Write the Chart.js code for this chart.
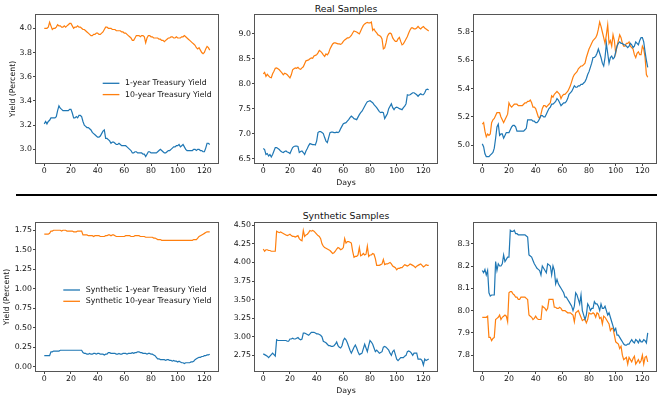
<!DOCTYPE html>
<html><head><meta charset="utf-8">
<script src="https://cdn.jsdelivr.net/npm/chart.js@4"></script>
<style>
html,body{margin:0;padding:0;background:#fff;}
#fig{position:relative;width:661px;height:398px;overflow:hidden;background:#fff;font-family:'DejaVu Sans',sans-serif;}
canvas{position:absolute;}
.title{position:absolute;font-size:9.3px;color:#111;transform:translate(-50%,-50%);white-space:nowrap;}
#sep{position:absolute;left:16px;top:194px;width:641px;height:2px;background:#000;}
</style></head><body>
<div id="fig">
 <div class="title" style="left:346px;top:7.5px">Real Samples</div>
 <div class="title" style="left:346px;top:215px">Synthetic Samples</div>
 <div id="sep"></div>
 <canvas id="c1"></canvas><canvas id="c2"></canvas><canvas id="c3"></canvas>
 <canvas id="c4"></canvas><canvas id="c5"></canvas><canvas id="c6"></canvas>
</div>
<script>
// ---------------- data ----------------
const days = Array.from({length:125}, (_, i) => i);
const xTicks = [0,20,40,60,80,100,120];
const realLabels = ['1-year Treasury Yield','10-year Treasury Yield'];
const synLabels = ['Synthetic 1-year Treasury Yield','Synthetic 10-year Treasury Yield'];

const realA_1y = [3.21,3.23,3.21,3.23,3.24,3.26,3.26,3.26,3.26,3.27,
3.32,3.36,3.34,3.33,3.32,3.32,3.32,3.32,3.32,3.33,
3.33,3.30,3.26,3.26,3.27,3.26,3.28,3.28,3.27,3.23,
3.20,3.19,3.18,3.18,3.17,3.16,3.14,3.13,3.12,3.11,
3.10,3.10,3.11,3.13,3.15,3.16,3.09,3.09,3.08,3.07,
3.05,3.06,3.06,3.05,3.04,3.04,3.05,3.04,3.03,3.03,
3.03,3.03,3.02,3.01,3.00,2.99,2.97,2.97,2.98,2.98,
2.97,2.97,2.97,2.97,2.96,2.96,2.94,2.96,2.98,2.98,
2.97,2.97,2.97,2.97,2.97,2.98,2.99,3.00,2.99,2.98,
2.97,2.97,2.98,2.99,2.99,3.00,3.01,3.02,3.02,3.03,
3.03,3.04,3.02,3.03,3.04,3.02,3.00,2.99,2.99,2.99,
2.99,2.99,3.00,3.00,2.99,3.00,3.00,2.99,2.99,2.98,
2.98,3.01,3.05,3.05,3.04];
const realA_10y = [4.00,4.00,4.00,4.01,4.05,4.02,3.99,4.00,4.00,4.01,
4.03,4.02,4.02,4.01,4.01,4.02,4.01,4.02,4.03,4.04,
4.04,4.02,4.00,4.01,4.01,4.02,4.01,4.01,4.00,3.99,
3.99,3.98,3.97,3.96,3.95,3.94,3.94,3.95,3.95,3.96,
3.96,3.95,3.95,3.96,3.97,3.99,4.01,4.01,4.00,4.00,
4.00,3.99,3.99,3.99,3.98,3.98,3.98,3.98,3.97,3.97,
3.96,3.96,3.95,3.94,3.93,3.92,3.90,3.90,3.92,3.94,
3.94,3.94,3.93,3.94,3.94,3.93,3.88,3.92,3.94,3.94,
3.93,3.93,3.92,3.92,3.92,3.92,3.91,3.91,3.90,3.90,
3.89,3.90,3.91,3.92,3.92,3.93,3.93,3.92,3.92,3.93,
3.92,3.92,3.92,3.93,3.93,3.94,3.93,3.92,3.91,3.90,
3.89,3.88,3.87,3.86,3.84,3.83,3.84,3.82,3.80,3.79,
3.80,3.83,3.85,3.84,3.82];
const realB_1y = [6.70,6.68,6.58,6.60,6.55,6.58,6.53,6.58,6.65,6.72,
6.72,6.70,6.68,6.65,6.63,6.62,6.64,6.65,6.63,6.62,
6.60,6.66,6.72,6.74,6.75,6.75,6.74,6.62,6.64,6.65,
6.62,6.58,6.65,6.70,6.76,6.80,6.79,6.78,6.78,6.77,
6.85,7.02,7.04,7.04,7.02,7.00,6.92,6.85,6.82,6.92,
7.02,7.03,7.03,7.02,7.02,7.03,7.02,7.04,7.10,7.15,
7.20,7.21,7.22,7.25,7.28,7.32,7.35,7.33,7.30,7.29,
7.28,7.33,7.38,7.42,7.45,7.50,7.55,7.60,7.64,7.65,
7.66,7.64,7.62,7.58,7.55,7.52,7.48,7.44,7.42,7.43,
7.42,7.30,7.35,7.40,7.50,7.55,7.60,7.52,7.48,7.52,
7.53,7.52,7.50,7.49,7.48,7.52,7.55,7.60,7.78,7.77,
7.78,7.80,7.82,7.82,7.80,7.78,7.75,7.78,7.80,7.78,
7.78,7.82,7.88,7.89,7.88];
const realB_10y = [8.20,8.23,8.15,8.19,8.16,8.13,8.12,8.20,8.25,8.31,
8.32,8.30,8.28,8.25,8.22,8.18,8.21,8.20,8.18,8.15,
8.12,8.18,8.28,8.30,8.32,8.31,8.33,8.30,8.29,8.32,
8.34,8.40,8.46,8.47,8.48,8.50,8.52,8.51,8.56,8.57,
8.58,8.62,8.67,8.65,8.62,8.58,8.55,8.60,8.58,8.62,
8.70,8.75,8.80,8.82,8.82,8.81,8.80,8.80,8.79,8.81,
8.85,8.88,8.90,8.92,8.92,8.94,8.97,9.02,9.06,9.05,
9.04,9.02,9.00,9.06,9.12,9.17,9.20,9.22,9.23,9.22,
9.22,9.24,9.07,9.10,9.05,9.02,8.98,8.97,8.95,8.90,
8.70,8.72,8.82,8.95,9.00,9.02,9.00,8.92,8.88,8.85,
8.85,8.90,8.93,8.85,8.78,8.80,8.85,8.90,8.95,9.02,
9.08,9.12,9.12,9.10,9.10,9.12,9.15,9.12,9.10,9.13,
9.15,9.12,9.10,9.08,9.06];
const realC_1y = [5.01,4.99,4.94,4.92,4.92,4.92,4.93,4.94,4.95,4.98,
5.05,5.13,5.15,5.07,5.08,5.08,5.05,5.07,5.09,5.09,
5.09,5.11,5.13,5.14,5.14,5.13,5.10,5.10,5.10,5.10,
5.10,5.10,5.11,5.12,5.18,5.18,5.18,5.18,5.17,5.17,
5.16,5.16,5.17,5.19,5.21,5.21,5.20,5.20,5.22,5.24,
5.26,5.27,5.29,5.29,5.30,5.31,5.33,5.32,5.30,5.28,
5.29,5.30,5.30,5.31,5.33,5.36,5.37,5.38,5.40,5.42,
5.41,5.41,5.42,5.42,5.43,5.43,5.44,5.45,5.47,5.50,
5.52,5.55,5.58,5.62,5.62,5.63,5.65,5.68,5.65,5.62,
5.58,5.56,5.62,5.72,5.65,5.58,5.62,5.63,5.61,5.62,
5.66,5.70,5.72,5.73,5.72,5.72,5.71,5.71,5.70,5.69,
5.70,5.72,5.71,5.69,5.70,5.73,5.72,5.71,5.74,5.76,
5.76,5.73,5.66,5.60,5.55];
const realC_10y = [5.15,5.16,5.10,5.06,5.08,5.07,5.08,5.16,5.18,5.19,
5.21,5.23,5.23,5.23,5.20,5.18,5.16,5.18,5.20,5.22,
5.30,5.28,5.27,5.28,5.29,5.29,5.29,5.28,5.28,5.28,
5.28,5.29,5.30,5.30,5.31,5.31,5.32,5.30,5.27,5.27,
5.26,5.23,5.20,5.19,5.22,5.26,5.28,5.28,5.27,5.28,
5.29,5.30,5.35,5.34,5.36,5.37,5.38,5.37,5.36,5.33,
5.35,5.36,5.36,5.37,5.38,5.40,5.42,5.45,5.48,5.50,
5.51,5.52,5.54,5.55,5.56,5.56,5.57,5.58,5.62,5.65,
5.68,5.70,5.72,5.74,5.75,5.76,5.78,5.82,5.87,5.84,
5.80,5.76,5.72,5.78,5.85,5.72,5.74,5.70,5.78,5.74,
5.65,5.70,5.74,5.78,5.76,5.72,5.70,5.70,5.72,5.72,
5.73,5.70,5.69,5.68,5.64,5.62,5.65,5.66,5.64,5.64,
5.70,5.68,5.62,5.50,5.48];
const synA_1y = [0.14,0.14,0.14,0.14,0.14,0.19,0.19,0.20,0.20,0.20,
0.20,0.20,0.21,0.21,0.21,0.21,0.21,0.21,0.21,0.21,
0.21,0.21,0.21,0.21,0.21,0.21,0.21,0.21,0.21,0.18,
0.17,0.17,0.16,0.16,0.17,0.16,0.16,0.17,0.17,0.16,
0.17,0.17,0.16,0.16,0.16,0.15,0.16,0.16,0.18,0.18,
0.17,0.17,0.17,0.17,0.16,0.16,0.17,0.16,0.16,0.17,
0.17,0.17,0.16,0.17,0.17,0.17,0.18,0.17,0.18,0.18,
0.19,0.19,0.18,0.18,0.17,0.17,0.17,0.16,0.17,0.17,
0.16,0.16,0.15,0.14,0.12,0.10,0.10,0.09,0.09,0.09,
0.09,0.08,0.09,0.09,0.08,0.08,0.07,0.08,0.07,0.07,
0.06,0.07,0.06,0.05,0.05,0.04,0.05,0.05,0.05,0.05,
0.06,0.06,0.07,0.09,0.10,0.11,0.12,0.12,0.13,0.13,
0.14,0.14,0.15,0.15,0.16];
const synA_10y = [1.70,1.70,1.70,1.70,1.71,1.74,1.74,1.75,1.75,1.75,
1.75,1.75,1.75,1.74,1.75,1.75,1.75,1.74,1.74,1.74,
1.74,1.74,1.73,1.73,1.73,1.74,1.74,1.74,1.74,1.69,
1.69,1.69,1.69,1.68,1.68,1.68,1.68,1.67,1.68,1.68,
1.68,1.68,1.67,1.67,1.67,1.67,1.68,1.68,1.69,1.69,
1.68,1.69,1.69,1.68,1.67,1.67,1.67,1.67,1.67,1.67,
1.67,1.68,1.68,1.68,1.68,1.67,1.67,1.67,1.68,1.68,
1.68,1.68,1.67,1.67,1.67,1.67,1.66,1.66,1.66,1.66,
1.66,1.66,1.65,1.65,1.64,1.63,1.63,1.63,1.62,1.62,
1.62,1.62,1.62,1.62,1.62,1.62,1.62,1.62,1.62,1.62,
1.62,1.62,1.62,1.62,1.62,1.62,1.62,1.62,1.62,1.62,
1.62,1.62,1.63,1.63,1.63,1.65,1.67,1.68,1.69,1.70,
1.71,1.72,1.73,1.73,1.73];
const synB_1y = [2.77,2.76,2.75,2.74,2.72,2.74,2.76,2.78,2.76,2.74,
2.96,2.95,2.95,2.95,2.95,2.95,2.95,2.95,2.94,2.94,
2.97,2.97,2.98,2.97,2.97,2.98,2.99,2.97,2.96,2.97,
3.05,3.05,3.04,3.03,3.02,3.04,3.06,3.06,3.06,3.05,
3.04,3.04,3.03,3.02,3.00,2.94,2.93,2.92,2.90,2.88,
2.88,2.87,2.87,2.88,2.90,2.93,2.88,2.86,2.85,2.88,
2.95,2.98,2.96,2.92,2.87,2.82,2.78,2.82,2.86,2.89,
2.85,2.80,2.76,2.77,2.78,2.84,2.90,2.85,2.80,2.88,
2.95,2.93,2.90,2.85,2.80,2.82,2.80,2.78,2.79,2.80,
2.86,2.87,2.86,2.84,2.82,2.78,2.75,2.80,2.82,2.76,
2.70,2.68,2.70,2.72,2.72,2.72,2.74,2.75,2.80,2.81,
2.80,2.78,2.75,2.78,2.78,2.78,2.70,2.70,2.70,2.68,
2.62,2.70,2.68,2.69,2.70];
const synB_10y = [4.18,4.15,4.17,4.17,4.16,4.16,4.15,4.15,4.15,4.15,
4.42,4.41,4.40,4.41,4.40,4.39,4.38,4.37,4.36,4.37,
4.38,4.36,4.35,4.35,4.34,4.35,4.36,4.32,4.30,4.29,
4.43,4.35,4.37,4.38,4.40,4.43,4.42,4.43,4.42,4.40,
4.38,4.36,4.35,4.32,4.25,4.22,4.20,4.19,4.18,4.17,
4.16,4.14,4.12,4.13,4.15,4.18,4.20,4.19,4.17,4.18,
4.20,4.32,4.26,4.28,4.28,4.27,4.26,4.15,4.07,4.08,
4.08,4.10,4.20,4.09,4.10,4.12,4.10,4.11,4.22,4.08,
4.10,4.10,4.12,4.11,4.05,3.96,3.96,3.96,3.97,3.98,
4.04,3.97,3.98,3.98,3.99,4.00,3.98,3.95,3.94,3.93,
3.90,3.92,3.92,3.93,3.93,3.95,3.97,3.96,3.95,3.96,
3.98,3.97,3.96,3.95,3.93,3.95,3.96,3.97,3.98,3.96,
3.94,3.95,3.97,3.96,3.96];
const synC_1y = [8.18,8.17,8.185,8.16,8.18,8.08,8.065,8.07,8.07,8.07,
8.22,8.18,8.21,8.20,8.20,8.21,8.25,8.22,8.23,8.24,
8.24,8.36,8.355,8.355,8.36,8.345,8.345,8.34,8.34,8.34,
8.34,8.34,8.34,8.335,8.33,8.25,8.245,8.24,8.225,8.21,
8.20,8.19,8.185,8.18,8.16,8.20,8.19,8.18,8.17,8.21,
8.205,8.20,8.16,8.20,8.18,8.12,8.14,8.12,8.11,8.10,
8.09,8.08,8.06,8.06,8.05,8.04,8.03,8.02,8.00,8.02,
8.08,8.07,8.05,8.03,8.07,8.00,7.98,7.96,7.98,8.03,
8.02,8.00,8.01,8.01,8.04,8.03,8.03,8.02,8.00,8.03,
8.01,8.01,8.02,8.00,7.98,7.99,7.97,7.95,7.93,7.91,
7.92,7.89,7.89,7.88,7.87,7.86,7.85,7.845,7.845,7.85,
7.85,7.86,7.87,7.86,7.855,7.87,7.865,7.855,7.87,7.86,
7.86,7.87,7.865,7.855,7.90];
const synC_10y = [7.97,7.97,7.97,7.97,7.975,7.88,7.88,7.865,7.875,7.88,
7.96,7.965,7.97,7.98,7.96,7.97,7.975,7.98,7.975,7.95,
8.08,8.085,8.085,8.075,8.07,8.06,8.06,8.05,8.05,8.06,
8.06,8.06,8.06,8.055,8.05,7.98,7.975,7.97,7.96,7.965,
7.975,7.965,7.96,7.96,7.96,8.02,8.015,8.01,8.00,8.01,
8.05,8.05,8.05,8.05,8.015,8.015,8.01,8.01,8.015,8.01,
8.00,8.00,8.00,7.995,7.99,7.99,7.99,7.985,7.98,7.95,
7.99,7.995,8.00,7.985,7.97,7.955,7.96,7.96,7.945,7.96,
7.99,7.985,7.985,7.99,7.985,7.97,7.99,7.985,7.965,7.97,
7.94,7.975,7.97,7.96,7.95,7.94,7.91,7.92,7.92,7.89,
7.86,7.855,7.85,7.83,7.84,7.80,7.78,7.785,7.79,7.76,
7.79,7.78,7.77,7.785,7.795,7.76,7.77,7.78,7.765,7.775,
7.80,7.76,7.79,7.795,7.77];

const yTicksRealA = [3.0,3.2,3.4,3.6,3.8,4.0];
const yTicksRealB = [6.5,7.0,7.5,8.0,8.5,9.0];
const yTicksRealC = [5.0,5.2,5.4,5.6,5.8];
const yTicksSynA = [0.00,0.25,0.50,0.75,1.00,1.25,1.50,1.75];
const yTicksSynB = [2.75,3.00,3.25,3.50,3.75,4.00,4.25,4.50];
const yTicksSynC = [7.8,7.9,8.0,8.1,8.2,8.3];

// ---------------- layout ----------------
const FONT = "'DejaVu Sans'";
const BLUE = '#1f77b4', ORANGE = '#ff7f0e';
const TXT = '#111';
const FS = 7.8;
const PW = 182, PH = 148, YW = 40, PT = 10, PR = 14, XH = 26;

const panels = [
 {id:'c1', l:36, t:15, one:realA_1y, ten:realA_10y, labels:realLabels, ymin:2.887, ymax:4.11, yticks:yTicksRealA, dec:1, ytitle:'Yield (Percent)', ytp:12.2, legend:{x:66.7, y:68.3}},
 {id:'c2', l:255, t:15, one:realB_1y, ten:realB_10y, labels:realLabels, ymin:6.41, ymax:9.38, yticks:yTicksRealB, dec:1, xtitle:'Days'},
 {id:'c3', l:474, t:15, one:realC_1y, ten:realC_10y, labels:realLabels, ymin:4.875, ymax:5.92, yticks:yTicksRealC, dec:1},
 {id:'c4', l:36, t:223, one:synA_1y, ten:synA_10y, labels:synLabels, ymin:-0.056, ymax:1.843, yticks:yTicksSynA, dec:2, ytitle:'Yield (Percent)', ytp:6.2, legend:{x:27.3, y:67}},
 {id:'c5', l:255, t:223, one:synB_1y, ten:synB_10y, labels:synLabels, ymin:2.54, ymax:4.53, yticks:yTicksSynB, dec:2, xtitle:'Days'},
 {id:'c6', l:474, t:223, one:synC_1y, ten:synC_10y, labels:synLabels, ymin:7.729, ymax:8.393, yticks:yTicksSynC, dec:1},
];

const framePlugin = {
  id: 'frame',
  afterDraw(chart) {
    const {ctx, chartArea: a} = chart;
    ctx.save();
    ctx.strokeStyle = '#555';
    ctx.lineWidth = 1;
    ctx.strokeRect(Math.round(a.left) - 0.5, Math.round(a.top) - 0.5,
                   Math.round(a.right - a.left) + 1, Math.round(a.bottom - a.top) + 1);
    ctx.restore();
  }
};
const legendPlugin = {
  id: 'inlineLegend',
  afterDatasetsDraw(chart, args, opts) {
    if (!opts || !opts.show) return;
    const {ctx, chartArea: a} = chart;
    ctx.save();
    ctx.font = FS + 'px ' + FONT;
    ctx.textBaseline = 'middle';
    ctx.textAlign = 'left';
    chart.data.datasets.forEach((ds, i) => {
      const y = a.top + opts.y + i * opts.dy;
      const x = a.left + opts.x;
      ctx.strokeStyle = ds.borderColor;
      ctx.lineWidth = 1.3;
      ctx.beginPath(); ctx.moveTo(x, y); ctx.lineTo(x + opts.len, y); ctx.stroke();
      ctx.fillStyle = TXT;
      ctx.fillText(ds.label, x + opts.len + opts.gap, y);
    });
    ctx.restore();
  }
};

panels.forEach(p => {
  const cv = document.getElementById(p.id);
  const W = PW + YW + PR, H = PH + PT + XH;
  cv.width = W; cv.height = H;
  cv.style.width = W + 'px'; cv.style.height = H + 'px';
  cv.style.left = (p.l - YW) + 'px'; cv.style.top = (p.t - PT) + 'px';
  const tickFont = {family: FONT, size: FS};
  new Chart(cv, {
    type: 'line',
    data: {
      datasets: [
        {label: p.labels[0], data: days.map((d, i) => ({x: d, y: p.one[i]})), borderColor: BLUE, backgroundColor: BLUE, borderWidth: 1.2, pointRadius: 0, tension: 0, fill: false},
        {label: p.labels[1], data: days.map((d, i) => ({x: d, y: p.ten[i]})), borderColor: ORANGE, backgroundColor: ORANGE, borderWidth: 1.2, pointRadius: 0, tension: 0, fill: false}
      ]
    },
    options: {
      responsive: false,
      animation: false,
      devicePixelRatio: 1,
      layout: {padding: {top: PT, right: PR, left: 0, bottom: 0}},
      plugins: {
        legend: {display: false},
        tooltip: {enabled: false},
        inlineLegend: p.legend ? {show: true, x: p.legend.x, y: p.legend.y, dy: 11.3, len: 16.7, gap: 5.7} : {show: false}
      },
      scales: {
        x: {
          type: 'linear', min: -6.2, max: 130.2,
          afterBuildTicks: s => { s.ticks = xTicks.map(v => ({value: v})); },
          afterFit: s => { s.height = XH; },
          ticks: {autoSkip: false, maxRotation: 0, padding: 0.5, color: TXT, font: tickFont, callback: v => String(v)},
          grid: {drawOnChartArea: false, drawTicks: true, tickLength: 3, color: '#444', lineWidth: 1},
          border: {display: false},
          title: {display: !!p.xtitle, text: p.xtitle || '', color: TXT, font: {family: FONT, size: FS}, padding: {top: 0, bottom: 1.5}}
        },
        y: {
          type: 'linear', min: p.ymin, max: p.ymax,
          afterBuildTicks: s => { s.ticks = p.yticks.map(v => ({value: v})); },
          afterFit: s => { s.width = YW; },
          ticks: {autoSkip: false, padding: 1, color: TXT, font: tickFont, callback: v => Number(v).toFixed(p.dec)},
          grid: {drawOnChartArea: false, drawTicks: true, tickLength: 3, color: '#444', lineWidth: 1},
          border: {display: false},
          title: {display: !!p.ytitle, text: p.ytitle || '', color: TXT, font: {family: FONT, size: FS}, padding: {top: p.ytp || 0, bottom: 0}}
        }
      }
    },
    plugins: [framePlugin, legendPlugin]
  });
});
</script>
</body></html>
